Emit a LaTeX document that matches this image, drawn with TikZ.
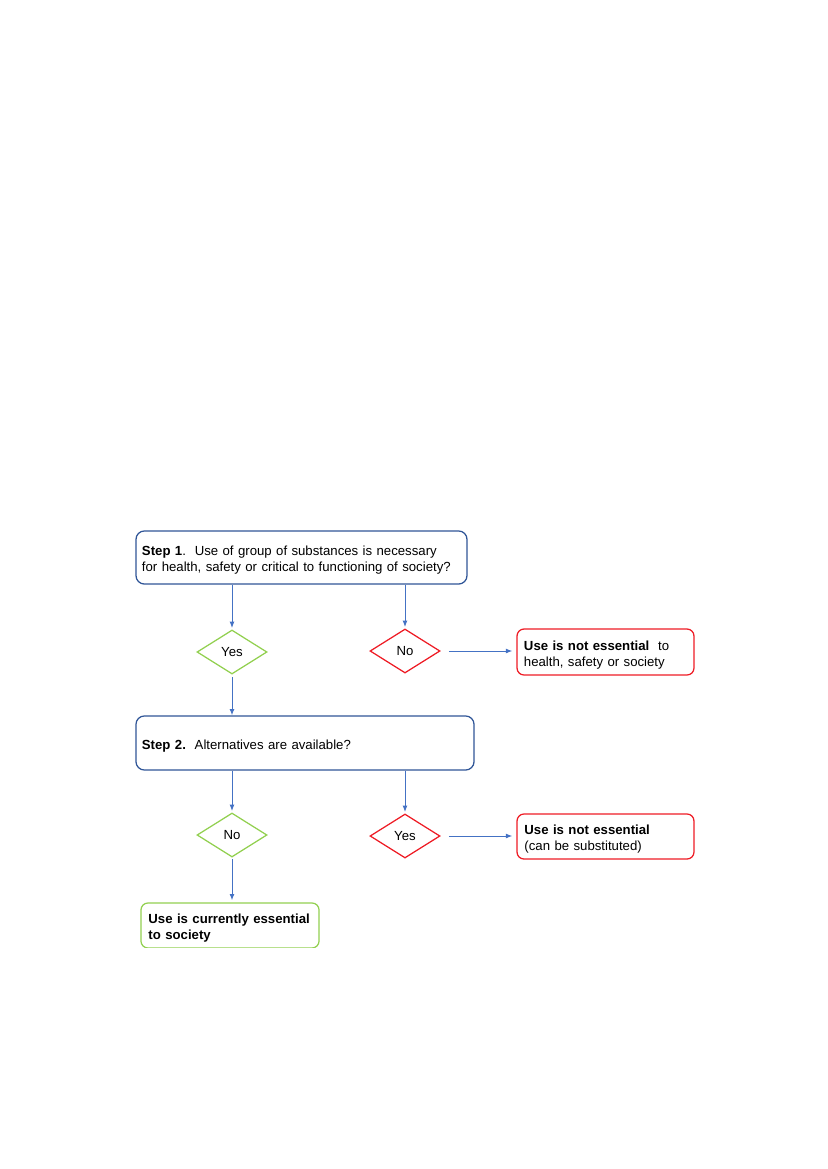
\documentclass[tikz,border=0pt]{standalone}
\usepackage{fontspec}
\setmainfont{Liberation Sans}
\usepackage{tikz}
\usetikzlibrary{arrows.meta,shapes.geometric}
\definecolor{boxblue}{HTML}{2F5597}
\definecolor{arrblue}{HTML}{4472C4}
\definecolor{okgreen}{HTML}{92D050}
\definecolor{nored}{HTML}{EE1C25}
\tikzstyle{txt}=[font=\fontsize{9.5}{11.5}\selectfont, align=left]
\tikzstyle{boxtxt}=[txt, inner sep=0pt, execute at begin node={\rule{0pt}{11pt}}]
\tikzstyle{stepbox}=[boxtxt, rectangle, rounded corners=6pt, draw=boxblue, line width=0.9pt]
\tikzstyle{redbox}=[boxtxt, rectangle, rounded corners=5pt, draw=nored, line width=0.9pt]
\tikzstyle{greenbox}=[boxtxt, rectangle, rounded corners=5pt, draw=okgreen, line width=0.9pt]
\tikzstyle{gdiam}=[txt, diamond, draw=okgreen, line width=0.9pt, inner sep=0pt, minimum width=50.4pt, minimum height=31.7pt]
\tikzstyle{rdiam}=[txt, diamond, draw=nored, line width=0.9pt, inner sep=0pt, minimum width=50.4pt, minimum height=31.7pt]
\tikzstyle{flow}=[-{Latex[length=4.5pt,width=3.5pt]}, draw=arrblue, line width=0.7pt]
\begin{document}
\begin{tikzpicture}[x=0.72pt, y=-0.72pt]
\useasboundingbox (0,0) rectangle (827,1169);
% step 1
\node[stepbox, minimum width=238.3pt, minimum height=38.2pt, text width=229.7pt] (step1) at (301.5,557.5)
  {\textbf{Step 1}.\ \ Use of group of substances is necessary\\for health, safety or critical to functioning of society?};
\node[gdiam] (yes1) at (232,652) {Yes};
\node[rdiam] (no1) at (405,651) {No};
\node[redbox, minimum width=127.4pt, minimum height=33.1pt, text width=117.4pt] (notess1) at (605.5,652)
  {\textbf{Use is not essential}\ \ to\\health, safety or society};
% step 2
\node[stepbox, minimum width=243.4pt, minimum height=38.9pt, text width=234.8pt] (step2) at (305,743)
  {\textbf{Step 2.}\ \ Alternatives are available?};
\node[gdiam] (no2) at (232,835) {No};
\node[rdiam] (yes2) at (405,836) {Yes};
\node[redbox, minimum width=127.4pt, minimum height=32.4pt, text width=116.7pt] (notess2) at (605.5,836.5)
  {\textbf{Use is not essential}\\(can be substituted)};
\begin{scope}
\clip (100,880) rectangle (400,947);
\node[greenbox, minimum width=128.2pt, minimum height=32.4pt, text width=117.4pt] (essential) at (230,925.5)
  {\textbf{Use is currently essential}\\\textbf{to society}};
\end{scope}
% connectors
\draw[flow] (yes1.north |- step1.south) -- ([yshift=1pt]yes1.north);
\draw[flow] (no1.north |- step1.south) -- ([yshift=1pt]no1.north);
\draw[flow] ([xshift=6pt]no1.east) -- ([xshift=-3pt]notess1.west |- no1.east);
\draw[flow] ([yshift=-2pt]yes1.south) -- (yes1.south |- step2.north);
\draw[flow] (no2.north |- step2.south) -- ([yshift=1pt]no2.north);
\draw[flow] (yes2.north |- step2.south) -- ([yshift=1pt]yes2.north);
\draw[flow] ([xshift=6pt]yes2.east) -- ([xshift=-3pt]notess2.west |- yes2.east);
\draw[flow] ([yshift=-1pt]no2.south) -- ([yshift=1.5pt]no2.south |- essential.north);
\end{tikzpicture}
\end{document}
